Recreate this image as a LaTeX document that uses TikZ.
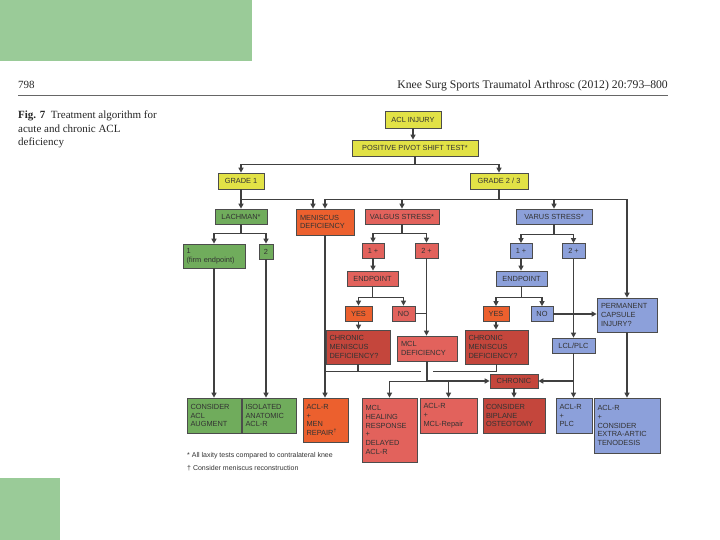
\documentclass[tikz,border=0pt]{standalone}
\usepackage{fontspec}
\setmainfont{Liberation Serif}
\newfontfamily\bxf{Liberation Sans}
\usetikzlibrary{arrows.meta,calc}
\definecolor{pgrn}{RGB}{154,203,152}
\definecolor{ylw}{RGB}{226,226,70}
\definecolor{grn}{RGB}{112,172,92}
\definecolor{org}{RGB}{236,96,46}
\definecolor{pnk}{RGB}{226,98,92}
\definecolor{dkr}{RGB}{196,70,60}
\definecolor{blu}{RGB}{140,160,218}
\tikzset{
  bx/.style={draw=black!70, line width=0.7pt, inner sep=0pt, font=\bxf\fontsize{7.4}{8.7}\selectfont, text=black!80, align=center},
  ln/.style={draw=black!75, line width=1.3pt},
  ar/.style={ln, -{Triangle[length=5pt,width=5pt]}},
  hdr/.style={inner sep=0pt, font=\fontsize{11}{13.5}\selectfont, text=black!85},
  fnt/.style={inner sep=0pt, font=\bxf\fontsize{7}{8.5}\selectfont, text=black!80}
}
\begin{document}
\begin{tikzpicture}[x=1pt,y=-1pt]
\useasboundingbox (0,0) rectangle (720,540);
\fill[white] (0,0) rectangle (720,540);
\fill[pgrn] (0,0) rectangle (252,61);
\fill[pgrn] (0,478) rectangle (60,540);
% header
\node[hdr, anchor=base west] (pg) at (18,89) {798};
\node[hdr, anchor=base east, font=\fontsize{11.7}{13.5}\selectfont] (jr) at (668,89) {Knee Surg Sports Traumatol Arthrosc (2012) 20:793–800};
\draw[black!60, line width=0.5pt] (18,95) -- (668,95);
\node[hdr, anchor=base west] (c1) at (18,119) {\textbf{Fig. 7}\enspace Treatment algorithm for};
\node[hdr, anchor=base west] (c2) at (18,132.5) {acute and chronic ACL};
\node[hdr, anchor=base west] (c3) at (18,146) {deficiency};
% boxes
\node[bx, fill=ylw, minimum width=56, minimum height=17] (acl) at (413,119.5) {ACL INJURY};
\node[bx, fill=ylw, minimum width=126, minimum height=16] (pps) at (415,148) {POSITIVE PIVOT SHIFT TEST*};
\node[bx, fill=ylw, minimum width=46, minimum height=16] (g1) at (241,181) {GRADE 1};
\node[bx, fill=ylw, minimum width=58, minimum height=16] (g23) at (499,181) {GRADE 2 / 3};
\node[bx, fill=grn, minimum width=52, minimum height=15] (lach) at (241,216.5) {LACHMAN*};
\node[bx, fill=org, minimum width=58, minimum height=26, text width=50, align=left] (men) at (325,222) {MENISCUS\\DEFICIENCY};
\node[bx, fill=pnk, minimum width=74, minimum height=15] (valg) at (402,216.5) {VALGUS STRESS*};
\node[bx, fill=blu, minimum width=76, minimum height=15] (var) at (554,216.5) {VARUS STRESS*};
\node[bx, fill=grn, minimum width=62, minimum height=24, text width=55, align=left] (b1) at (214,256) {1\\(firm endpoint)};
\node[bx, fill=grn, minimum width=14, minimum height=15] (b2) at (266,251.5) {2};
\node[bx, fill=pnk, minimum width=22, minimum height=15] (v1) at (373,250.5) {1 +};
\node[bx, fill=pnk, minimum width=23, minimum height=15] (v2) at (426.5,250.5) {2 +};
\node[bx, fill=pnk, minimum width=51, minimum height=15] (vend) at (372.5,278.5) {ENDPOINT};
\node[bx, fill=org, minimum width=27, minimum height=15] (vyes) at (358.5,313.5) {YES};
\node[bx, fill=pnk, minimum width=23, minimum height=15] (vno) at (403.5,313.5) {NO};
\node[bx, fill=dkr, minimum width=64, minimum height=34, text width=57, align=left] (vcmd) at (358,347) {CHRONIC\\MENISCUS\\DEFICIENCY?};
\node[bx, fill=pnk, minimum width=60, minimum height=25, text width=52, align=left] (mcld) at (427,348.5) {MCL\\DEFICIENCY};
\node[bx, fill=blu, minimum width=22, minimum height=15] (r1) at (521,251) {1 +};
\node[bx, fill=blu, minimum width=23, minimum height=15] (r2) at (573.5,251) {2 +};
\node[bx, fill=blu, minimum width=51, minimum height=15] (rend) at (521.5,278.5) {ENDPOINT};
\node[bx, fill=org, minimum width=26, minimum height=15] (ryes) at (496,314) {YES};
\node[bx, fill=blu, minimum width=22, minimum height=15] (rno) at (542,314) {NO};
\node[bx, fill=blu, minimum width=60, minimum height=34, text width=52, align=left] (pci) at (627,315) {PERMANENT\\CAPSULE\\INJURY?};
\node[bx, fill=dkr, minimum width=63, minimum height=34, text width=56, align=left] (rcmd) at (496.5,347) {CHRONIC\\MENISCUS\\DEFICIENCY?};
\node[bx, fill=blu, minimum width=43, minimum height=15] (lcl) at (573.5,345.5) {LCL/PLC};
\node[bx, fill=dkr, minimum width=48, minimum height=14] (chron) at (514,381) {CHRONIC};
\node[bx, fill=grn, minimum width=54, minimum height=35, text width=47, align=left] (aug) at (214,415.5) {CONSIDER\\ACL\\AUGMENT};
\node[bx, fill=grn, minimum width=54, minimum height=35, text width=47, align=left] (iso) at (269,415.5) {ISOLATED\\ANATOMIC\\ACL-R};
\node[bx, fill=org, minimum width=45, minimum height=44, text width=38, align=left] (menrep) at (325.5,420) {ACL-R\\+\\MEN\\REPAIR\textsuperscript{†}};
\node[bx, fill=pnk, minimum width=55, minimum height=64, text width=48, align=left] (mclh) at (389.5,430) {MCL\\HEALING\\RESPONSE\\+\\DELAYED\\ACL-R};
\node[bx, fill=pnk, minimum width=57, minimum height=35, text width=50, align=left] (acrm) at (448.5,415.5) {ACL-R\\+\\MCL-Repair};
\node[bx, fill=dkr, minimum width=62, minimum height=35, text width=56, align=left] (osteo) at (514,415.5) {CONSIDER\\BIPLANE\\OSTEOTOMY};
\node[bx, fill=blu, minimum width=36, minimum height=35, text width=29, align=left] (acrplc) at (574,415.5) {ACL-R\\+\\PLC};
\node[bx, fill=blu, minimum width=66, minimum height=55, text width=59, align=left] (tenod) at (627,425.5) {ACL-R\\+\\CONSIDER\\EXTRA-ARTIC\\TENODESIS};
% footnotes
\node[fnt, anchor=base west] (f1) at (187,457) {* All laxity tests compared to contralateral knee};
\node[fnt, anchor=base west] (f2) at (187,470) {† Consider meniscus reconstruction};
% connectors
\draw[ar] (acl.south) -- (acl.south |- pps.north);
\draw[ar] (pps.south) -- ++(0,8) -| (g1.north);
\draw[ar] (pps.south) -- ++(0,8) -| (g23.north);
\draw[ar] (g1.south) -- ++(0,10) -| (lach.north);
\draw[ar] (g1.south) -- ++(0,10) -| ([xshift=-12pt]men.north);
\draw[ar] (g23.south) -- ++(0,10) -| (men.north);
\draw[ar] (g23.south) -- ++(0,10) -| (valg.north);
\draw[ar] (g23.south) -- ++(0,10) -| (var.north);
\draw[ar] (g23.south) -- ++(0,10) -| (pci.north);
\draw[ar] (lach.south) -- ++(0,9) -| (b1.north);
\draw[ar] (lach.south) -- ++(0,9) -| (b2.north);
\draw[ar] (b1.south) -- (b1.south |- aug.north);
\draw[ar] (b2.south) -- (b2.south |- iso.north);
\draw[ar] (men.south) -- (men.south |- menrep.north);
\draw[ar] (valg.south) -- ++(0,9) -| (v1.north);
\draw[ar] (valg.south) -- ++(0,9) -| (v2.north);
\draw[ar] (v1.south) -- (v1.south |- vend.north);
\draw[ar] (vend.south) -- ++(0,11) -| (vyes.north);
\draw[ar] (vend.south) -- ++(0,11) -| (vno.north);
\draw[ar] (vyes.south) -- (vyes.south |- vcmd.north);
\draw[ar] (v2.south) -- (v2.south |- mcld.north);
\draw[ln] (vno.east) -- (vno.east -| v2.south);
\draw[ln] (vcmd.south) -- ++(0,7) coordinate (jm) -- (jm -| men.south);
\draw[ln] (jm) -- ($(jm -| mcld.south)+(-6,0)$);
\draw[ln] ($(jm -| mcld.south)+(6,0)$) -- (jm -| rcmd.south) -- (rcmd.south);
\draw[ar] (mcld.south) -- ++(0,20) -| (mclh.north);
\draw[ar] (mcld.south) -- ++(0,20) -| (acrm.north);
\draw[ar] (mcld.south |- chron.west) -- (chron.west);
\draw[ar] (var.south) -- ++(0,10) -| (r1.north);
\draw[ar] (var.south) -- ++(0,10) -| (r2.north);
\draw[ar] (r1.south) -- (r1.south |- rend.north);
\draw[ar] (rend.south) -- ++(0,11) -| (ryes.north);
\draw[ar] (rend.south) -- ++(0,11) -| (rno.north);
\draw[ar] (ryes.south) -- (ryes.south |- rcmd.north);
\draw[ar] (r2.south) -- (r2.south |- lcl.north);
\draw[ar] (rno.east) -- (rno.east -| pci.west);
\draw[ar] (lcl.south) -- (lcl.south |- acrplc.north);
\draw[ar] (lcl.south |- chron.east) -- (chron.east);
\draw[ar] (chron.south) -- (chron.south |- osteo.north);
\draw[ar] (pci.south) -- (pci.south |- tenod.north);
\end{tikzpicture}
\end{document}
